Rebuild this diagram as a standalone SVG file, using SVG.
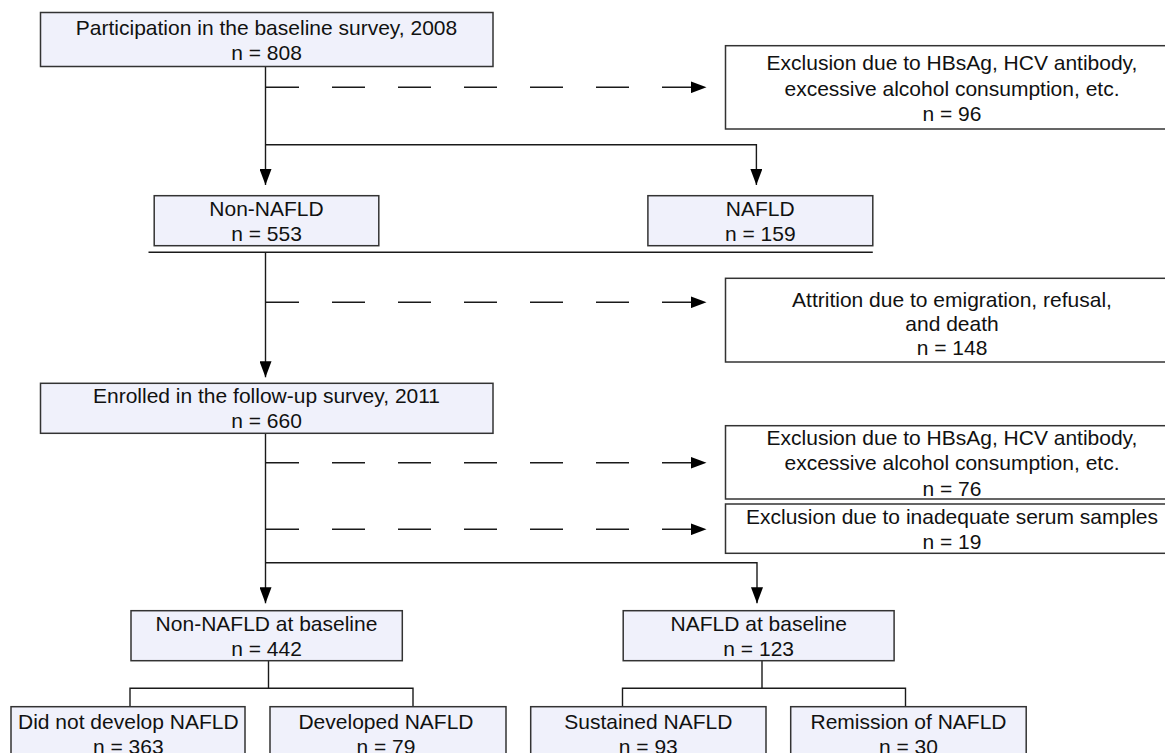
<svg xmlns="http://www.w3.org/2000/svg" width="1165" height="753" viewBox="0 0 1165 753">
  <style>
    .box { stroke: #333333; stroke-width: 1.5; }
    .main { fill: #f0f1fb; }
    .side { fill: #ffffff; }
    .t { font-family: "Liberation Sans", Arial, sans-serif; font-size: 21px; fill: #111111; text-anchor: middle; }
    .ln { fill: none; stroke: #1a1a1a; stroke-width: 1.4; }
    .dash { stroke-dasharray: 33 33; }
  </style>
  <defs>
    <marker id="arr" markerUnits="userSpaceOnUse" markerWidth="16" markerHeight="12" viewBox="0 0 16 12" refX="16" refY="6" orient="auto">
      <path d="M0,0 L16,6 L0,12 z" fill="#000000"/>
    </marker>
  </defs>
  <rect width="1165" height="753" fill="#ffffff"/>

  <g id="connectors">
    <path class="ln" d="M265.5,66.5 V185" marker-end="url(#arr)"/>
    <path class="ln" d="M265.5,144.7 H756.4 V185" marker-end="url(#arr)"/>
    <path class="ln dash" d="M266,87.3 H706.5" marker-end="url(#arr)"/>
    <path class="ln" d="M148.5,252.3 H872.8"/>
    <path class="ln" d="M265.5,252.3 V377.3" marker-end="url(#arr)"/>
    <path class="ln dash" d="M266,302.3 H706.5" marker-end="url(#arr)"/>
    <path class="ln" d="M265.5,433.3 V603.3" marker-end="url(#arr)"/>
    <path class="ln dash" d="M266,462.8 H706.5" marker-end="url(#arr)"/>
    <path class="ln dash" d="M266,529.3 H706.5" marker-end="url(#arr)"/>
    <path class="ln" d="M265.5,562.7 H757 V603.3" marker-end="url(#arr)"/>
    <path class="ln" d="M268.5,660.7 V688.3 M130,706.7 V688.3 H413 V706.7"/>
    <path class="ln" d="M762,660.7 V688.3 M622.5,706.7 V688.3 H905.5 V706.7"/>
  </g>

  <g id="baseline">
    <rect class="box main" x="40.5" y="12.5" width="452.5" height="54"/>
    <text class="t" x="266.5" y="35">Participation in the baseline survey, 2008</text>
    <text class="t" x="266.5" y="60">n = 808</text>
  </g>

  <g id="exclusion1">
    <rect class="box side" x="725.5" y="45.7" width="460" height="83.3"/>
    <text class="t" x="952" y="70">Exclusion due to HBsAg, HCV antibody,</text>
    <text class="t" x="952" y="95.5">excessive alcohol consumption, etc.</text>
    <text class="t" x="952" y="120.5">n = 96</text>
  </g>

  <g id="non-nafld">
    <rect class="box main" x="154.2" y="195.7" width="224.6" height="50"/>
    <text class="t" x="266.5" y="215.7">Non-NAFLD</text>
    <text class="t" x="266.5" y="240.7">n = 553</text>
  </g>

  <g id="nafld">
    <rect class="box main" x="647.9" y="195.7" width="224.9" height="50"/>
    <text class="t" x="760.3" y="215.7">NAFLD</text>
    <text class="t" x="760.3" y="240.7">n = 159</text>
  </g>

  <g id="attrition">
    <rect class="box side" x="725.5" y="278.3" width="460" height="83.7"/>
    <text class="t" x="952" y="307.3">Attrition due to emigration, refusal,</text>
    <text class="t" x="952" y="331.2">and death</text>
    <text class="t" x="952" y="355.2">n = 148</text>
  </g>

  <g id="followup">
    <rect class="box main" x="40.5" y="383.3" width="452.5" height="50"/>
    <text class="t" x="266.5" y="403.3">Enrolled in the follow-up survey, 2011</text>
    <text class="t" x="266.5" y="428.3">n = 660</text>
  </g>

  <g id="exclusion2">
    <rect class="box side" x="725.5" y="425.7" width="460" height="73.3"/>
    <text class="t" x="952" y="445">Exclusion due to HBsAg, HCV antibody,</text>
    <text class="t" x="952" y="470">excessive alcohol consumption, etc.</text>
    <text class="t" x="952" y="495.5">n = 76</text>
  </g>

  <g id="exclusion3">
    <rect class="box side" x="725.5" y="504" width="460" height="49.3"/>
    <text class="t" x="952" y="524">Exclusion due to inadequate serum samples</text>
    <text class="t" x="952" y="549">n = 19</text>
  </g>

  <g id="non-nafld-baseline">
    <rect class="box main" x="131" y="610.7" width="271.3" height="50"/>
    <text class="t" x="266.5" y="631">Non-NAFLD at baseline</text>
    <text class="t" x="266.5" y="655.7">n = 442</text>
  </g>

  <g id="nafld-baseline">
    <rect class="box main" x="623.2" y="610.7" width="270.9" height="50"/>
    <text class="t" x="758.7" y="631">NAFLD at baseline</text>
    <text class="t" x="758.7" y="655.7">n = 123</text>
  </g>

  <g id="did-not-develop">
    <rect class="box main" x="11" y="706.7" width="234" height="70"/>
    <text class="t" x="128.3" y="728.5">Did not develop NAFLD</text>
    <text class="t" x="128.3" y="754">n = 363</text>
  </g>

  <g id="developed">
    <rect class="box main" x="270" y="706.7" width="236" height="70"/>
    <text class="t" x="386" y="728.5">Developed NAFLD</text>
    <text class="t" x="386" y="754">n = 79</text>
  </g>

  <g id="sustained">
    <rect class="box main" x="530.7" y="706.7" width="235.3" height="70"/>
    <text class="t" x="648.3" y="728.5">Sustained NAFLD</text>
    <text class="t" x="648.3" y="754">n = 93</text>
  </g>

  <g id="remission">
    <rect class="box main" x="790.7" y="706.7" width="235.5" height="70"/>
    <text class="t" x="908.5" y="728.5">Remission of NAFLD</text>
    <text class="t" x="908.5" y="754">n = 30</text>
  </g>
</svg>
